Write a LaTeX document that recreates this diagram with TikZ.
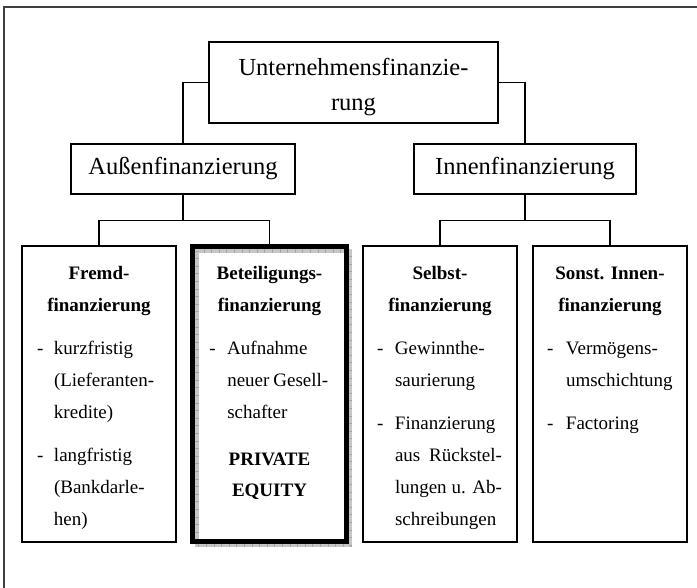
\documentclass[tikz,border=0pt]{standalone}
\usepackage{fontspec}
\setmainfont{Liberation Serif}
\usetikzlibrary{calc}
\newcommand{\jline}[2]{\makebox[#1][s]{#2}}
\tikzset{
  box/.style={draw, line width=1.2pt, inner sep=0pt},
  big/.style={font=\fontsize{24.5}{35}\selectfont},
  head/.style={font=\fontsize{19}{32}\selectfont\bfseries, inner sep=0pt, anchor=base},
  list/.style={font=\fontsize{19}{32}\selectfont, inner sep=0pt, anchor=base west},
}
\begin{document}
\begin{tikzpicture}[x=1pt, y=-1pt, line width=1.2pt]
\useasboundingbox (0,0) rectangle (697,588);
\clip (0,0) rectangle (697,588);
\draw[line width=1.5pt, black!75] (4,600) -- (4,7) -- (710,7);

\node[box, big, align=center, minimum width=289, minimum height=81] (unt) at (353.5,82.5) {\rule{0pt}{26pt}Unternehmensfinanzie-\\rung};
\node[box, big, minimum width=224, minimum height=50] (aus) at (183,169) {Außenfinanzierung};
\node[box, big, minimum width=222, minimum height=50] (inn) at (525,169) {Innenfinanzierung};

\node[box, minimum width=154, minimum height=296] (fremd) at (99,394) {};
\path node[inner sep=0pt, minimum width=152.5, minimum height=293.5] (beteil) at (269.5,394) {};
\node[box, minimum width=154, minimum height=296] (selbst) at (440,394) {};
\node[box, minimum width=154, minimum height=296] (sonst) at (610,394) {};

\draw (unt.west) -| (aus.north);
\draw (unt.east) -| (inn.north);
\coordinate (aj) at ($(aus.south)+(0,26)$);
\coordinate (ij) at ($(inn.south)+(0,26)$);
\draw (aus.south) -- (aj);
\draw (fremd.north) |- (aj) -| (beteil.north);
\draw (inn.south) -- (ij);
\draw (selbst.north) |- (ij) -| (sonst.north);

\draw[gray!45, line width=4pt] ($(beteil.north west)+(4,4)$) rectangle ($(beteil.south east)+(4,4)$);
\draw[gray!70, line width=4pt, dash pattern=on 0.6pt off 7pt] ($(beteil.north west)+(4,4)$) rectangle ($(beteil.south east)+(4,4)$);
\draw[line width=4.5pt] (beteil.north west) rectangle (beteil.south east);

\coordinate (hb) at (0,280);
\coordinate (lb) at (0,355);
\coordinate (pb) at (0,465);

\node[head] (fremdhd) at (fremd.north |- hb) {\begin{tabular}[t]{@{}c@{}}Fremd-\\finanzierung\end{tabular}};
\node[head] (beteilhd) at (beteil.north |- hb) {\begin{tabular}[t]{@{}c@{}}Beteiligungs-\\finanzierung\end{tabular}};
\node[head] (selbsthd) at (selbst.north |- hb) {\begin{tabular}[t]{@{}c@{}}Selbst-\\finanzierung\end{tabular}};
\node[head] (sonsthd) at (sonst.north |- hb) {\begin{tabular}[t]{@{}c@{}}Sonst. Innen-\\finanzierung\end{tabular}};

\node[list] (fremdls) at ($(fremd.west |- lb)+(15,0)$) {\begin{tabular}[t]{@{}p{17pt}@{}l@{}}
-&kurzfristig\\ &(Lieferanten-\\ &kredite)\\[11pt]
-&langfristig\\ &(Bankdarle-\\ &hen)\end{tabular}};
\node[list] (beteills) at ($(beteil.west |- lb)+(16,0)$) {\begin{tabular}[t]{@{}p{18pt}@{}l@{}}
-&Aufnahme\\ &\jline{101pt}{neuer Gesell-}\\ &schafter\end{tabular}};
\node[head] (pe) at (beteil.north |- pb) {\begin{tabular}[t]{@{}c@{}}PRIVATE\\EQUITY\end{tabular}};
\node[list] (selbstls) at ($(selbst.west |- lb)+(14,0)$) {\begin{tabular}[t]{@{}p{18pt}@{}l@{}}
-&Gewinnthe-\\ &saurierung\\[11pt]
-&Finanzierung\\ &\jline{107pt}{aus Rückstel-}\\ &\jline{107pt}{lungen u. Ab-}\\ &schreibungen\end{tabular}};
\node[list] (sonstls) at ($(sonst.west |- lb)+(14,0)$) {\begin{tabular}[t]{@{}p{19pt}@{}l@{}}
-&Vermögens-\\ &umschichtung\\[11pt]
-&Factoring\end{tabular}};
\end{tikzpicture}
\end{document}
